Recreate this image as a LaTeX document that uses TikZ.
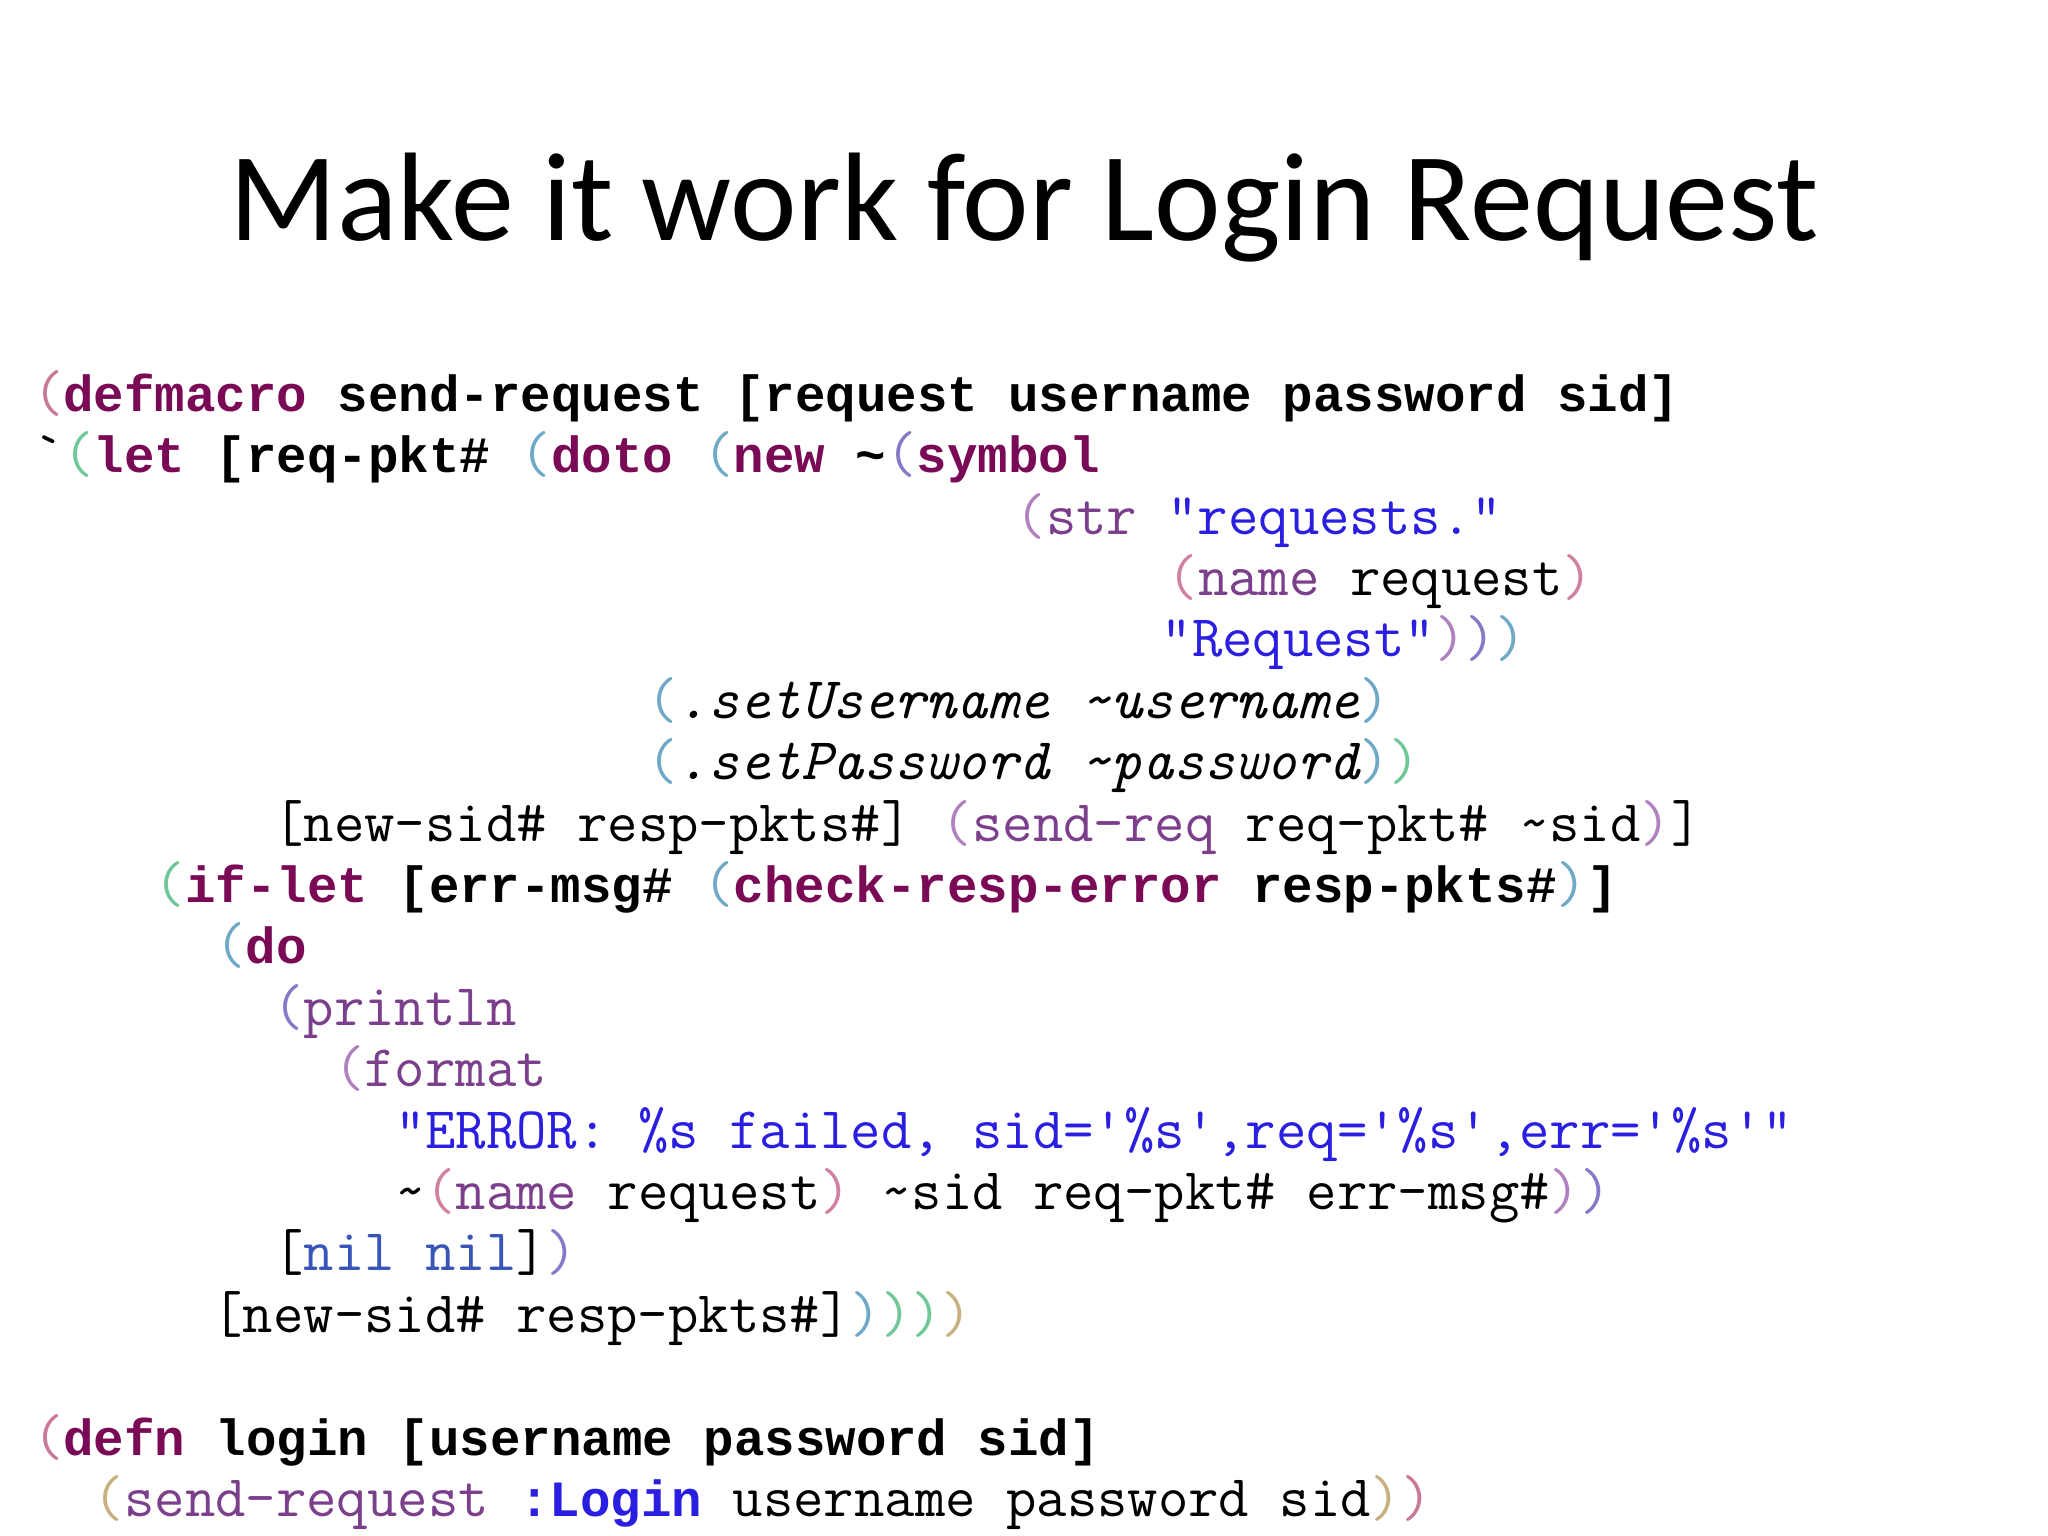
\documentclass[tikz,border=0pt]{standalone}
\usepackage{fontspec}
\newfontfamily\titlefont{Carlito}
\newfontfamily\cbold{Liberation Mono}
\definecolor{kw}{HTML}{7A0A55}
\definecolor{fn}{HTML}{7B3F8C}
\definecolor{st}{HTML}{2A1FE0}
\definecolor{nilc}{HTML}{3A55B8}
\definecolor{ca}{HTML}{C87898}
\definecolor{cb}{HTML}{70C898}
\definecolor{cc}{HTML}{70A8C8}
\definecolor{cd}{HTML}{8878C8}
\definecolor{pa}{HTML}{B080C0}
\definecolor{pk}{HTML}{D080A0}
\definecolor{tan}{HTML}{C8B080}
\newcommand\RG{\ttfamily\fontsize{29.5}{30}\selectfont}
\newcommand\KW[1]{{\cbold\bfseries\fontsize{25.4}{30}\selectfont\color{kw}#1}}
\newcommand\BB[1]{{\cbold\bfseries\fontsize{25.4}{30}\selectfont\color{black}#1}}
\newcommand\KB[1]{{\cbold\bfseries\fontsize{25.4}{30}\selectfont\color{st}#1}}
\newcommand\FN[1]{{\RG\color{fn}#1}}
\newcommand\ST[1]{{\RG\color{st}#1}}
\newcommand\NL[1]{{\RG\color{nilc}#1}}
\newcommand\RR[1]{{\RG\color{black}#1}}
\newcommand\IT[1]{{\RG\itshape\color{black}#1}}
\newcommand\PP[2]{{\RG\color{#1}#2}}
\begin{document}
\begin{tikzpicture}[x=0.653pt,y=-0.653pt,
  code/.style={anchor=base west,inner sep=0pt}]
\useasboundingbox (0,0) rectangle (1568,1176);
\fill[white] (0,0) rectangle (1568,1176);
\node[anchor=base,inner sep=0pt,font=\titlefont\fontsize{63}{66}\selectfont] (title) at (784,184) {Make it work for Login Request};
\def\cw{23.29}
\node[code] (l1) at (25,315) {\PP{ca}{(}\KW{defmacro }\BB{send-request [request username password sid]}};
\node[code] (l2) at (25,362) {\RR{\textasciigrave}\PP{cb}{(}\KW{let }\BB{[req-pkt\# }\PP{cc}{(}\KW{doto }\PP{cc}{(}\KW{new }\BB{\textasciitilde}\PP{cd}{(}\KW{symbol}};
\node[code] (l3) at (25+32.3*\cw,409) {\PP{pa}{(}\FN{str }\ST{"requests."}};
\node[code] (l4) at (25+37.3*\cw,456) {\PP{pk}{(}\FN{name }\RR{request}\PP{pk}{)}};
\node[code] (l5) at (25+37.1*\cw,503) {\ST{"Request"}\PP{pa}{)}\PP{cd}{)}\PP{cc}{)}};
\node[code] (l6) at (25+20.2*\cw,550) {\PP{cc}{(}\IT{.setUsername \textasciitilde username}\PP{cc}{)}};
\node[code] (l7) at (25+20.2*\cw,597) {\PP{cc}{(}\IT{.setPassword \textasciitilde password}\PP{cc}{)}\PP{cb}{)}};
\node[code] (l8) at (25+7.9*\cw,644) {\RR{[new-sid\# resp-pkts\#] }\PP{pa}{(}\FN{send-req }\RR{req-pkt\# \textasciitilde sid}\PP{pa}{)}\RR{]}};
\node[code] (l9) at (25+4*\cw,691) {\PP{cb}{(}\KW{if-let }\BB{[err-msg\# }\PP{cc}{(}\KW{check-resp-error }\BB{resp-pkts\#}\PP{cc}{)}\BB{]}};
\node[code] (l10) at (25+6*\cw,738) {\PP{cc}{(}\KW{do}};
\node[code] (l11) at (25+7.9*\cw,785) {\PP{cd}{(}\FN{println}};
\node[code] (l12) at (25+9.9*\cw,832) {\PP{pa}{(}\FN{format}};
\node[code] (l13) at (25+11.9*\cw,879) {\ST{"ERROR: \%s failed, sid='\%s',req='\%s',err='\%s'"}};
\node[code] (l14) at (25+11.9*\cw,926) {\RR{\textasciitilde}\PP{pk}{(}\FN{name }\RR{request}\PP{pk}{) }\RR{\textasciitilde sid req-pkt\# err-msg\#}\PP{pa}{)}\PP{cd}{)}};
\node[code] (l15) at (25+7.9*\cw,973) {\RR{[}\NL{nil nil}\RR{]}\PP{cd}{)}};
\node[code] (l16) at (25+5.9*\cw,1020) {\RR{[new-sid\# resp-pkts\#]}\PP{cc}{)}\PP{cb}{)}\PP{cb}{)}\PP{tan}{)}};
\node[code] (l18) at (25,1114) {\PP{ca}{(}\KW{defn }\BB{login [username password sid]}};
\node[code] (l19) at (25+2*\cw,1161) {\PP{tan}{(}\FN{send-request }\KB{:Login }\RR{username password sid}\PP{tan}{)}\PP{ca}{)}};
\end{tikzpicture}
\end{document}
